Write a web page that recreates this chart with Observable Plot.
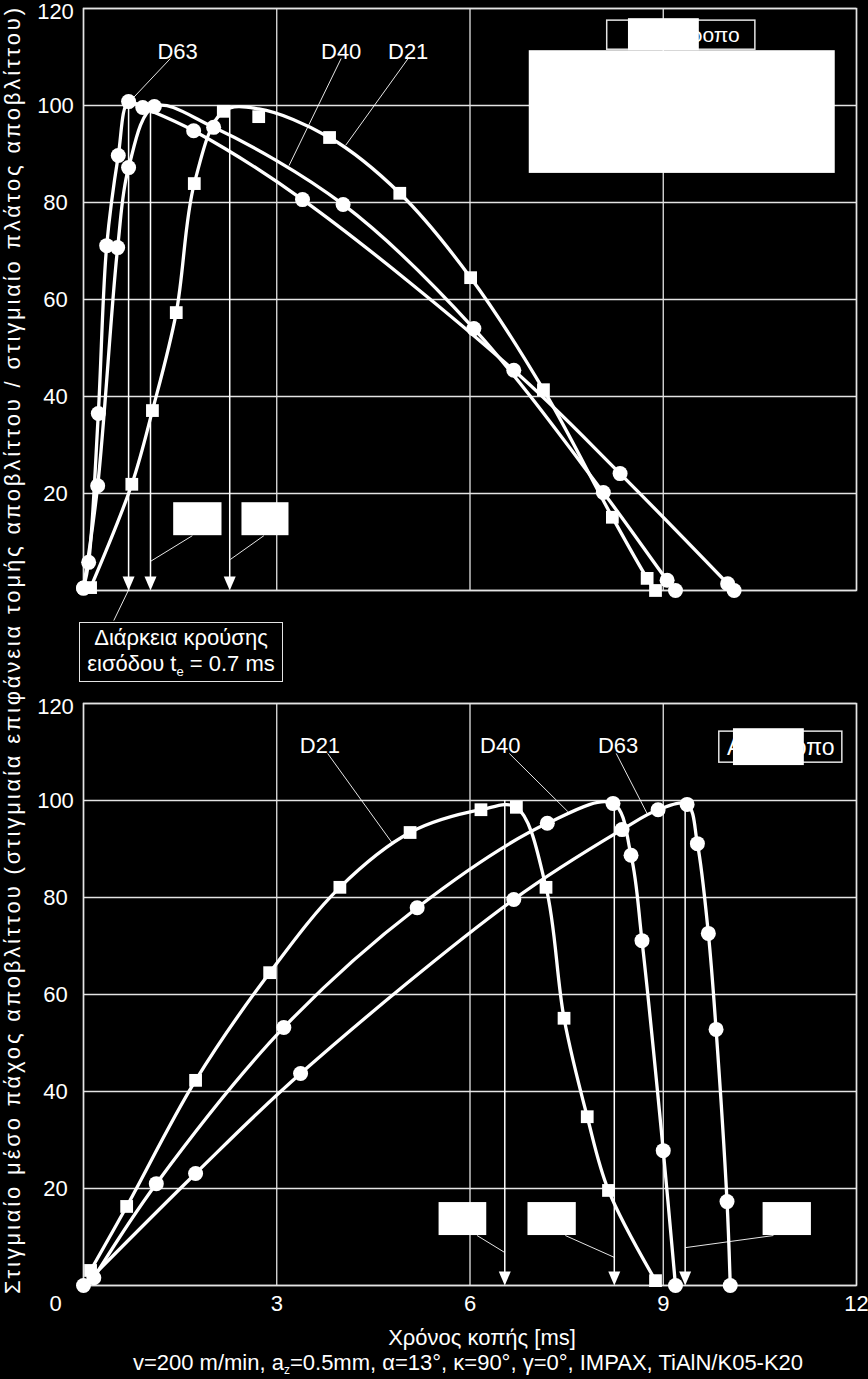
<!DOCTYPE html>
<html><head><meta charset="utf-8">
<script src="https://cdn.jsdelivr.net/npm/d3@7"></script>
<script src="https://cdn.jsdelivr.net/npm/@observablehq/plot@0.6"></script>
<style>
html,body{margin:0;padding:0;background:#000;overflow:hidden}
#wrap{position:relative;width:868px;height:1379px;background:#000;font-family:"Liberation Sans",Arial,sans-serif;color:#fff}
.abs{position:absolute;white-space:nowrap}
</style></head><body><div id="wrap"></div>
<script>
// ---------- ticks ----------
const xTicks = [0, 3, 6, 9, 12];
const yTicks = [20, 40, 60, 80, 100, 120];
const yGrid = [0, 20, 40, 60, 80, 100, 120];

// ---------- top panel (Ομόρροπο) ----------
const topD21_t = [0.11, 0.75, 1.07, 1.44, 1.72, 2.17, 2.72, 3.82, 4.91, 6.01, 7.14, 8.21, 8.75, 8.88];
const topD21_v = [0.6, 21.9, 37.1, 57.3, 83.9, 98.8, 97.7, 93.4, 81.9, 64.5, 41.4, 15.1, 2.5, 0];
const topD21_lineV = [0.6, 21.9, 37.1, 57.3, 83.9, 98.8, 99.3, 93.4, 81.9, 64.5, 41.4, 15.1, 2.5, 0];
const topD40_t = [0, 0.22, 0.53, 0.70, 1.10, 2.02, 4.03, 6.06, 8.07, 9.06, 9.19];
const topD40_v = [0.5, 21.6, 70.7, 87.2, 99.8, 95.5, 79.6, 54.0, 20.2, 2.1, 0];
const topD63_t = [0, 0.08, 0.23, 0.36, 0.54, 0.70, 0.92, 1.71, 3.40, 6.68, 8.33, 10.0, 10.1];
const topD63_v = [0.5, 5.8, 36.5, 71.1, 89.7, 100.8, 99.6, 94.8, 80.6, 45.4, 24.1, 1.4, 0];
const topArrows = [0.70, 1.04, 2.27];

// ---------- bottom panel (Αντίρροπο) ----------
const botD21_t = [0.11, 0.67, 1.74, 2.89, 3.98, 5.07, 6.17, 6.72, 7.18, 7.46, 7.82, 8.15, 8.88];
const botD21_v = [3.1, 16.3, 42.3, 64.5, 82.1, 93.4, 98.1, 98.6, 82.1, 55.1, 34.8, 19.6, 1.0];
const botD40_t = [0.16, 1.13, 3.11, 5.18, 7.20, 8.22, 8.50, 8.67, 9.00, 9.19];
const botD40_v = [1.6, 21.0, 53.2, 77.9, 95.3, 99.4, 88.7, 71.1, 27.8, 0];
const botD63_t = [0, 1.74, 3.37, 6.68, 8.36, 8.92, 9.37, 9.53, 9.70, 9.82, 9.99, 10.04];
const botD63_v = [0, 23.1, 43.7, 79.6, 94.0, 98.1, 99.2, 91.1, 72.6, 52.8, 17.3, 0];
const botArrows = [6.54, 8.24, 9.34];

// ---------- annotations (data coordinates) ----------
const topLabels = [
  {text: "D63", x: 1.46, y: 111.1, x1: 1.35, y1: 109.7, x2: 0.76, y2: 101.4},
  {text: "D40", x: 4.00, y: 111.1, x1: 4.00, y1: 109.7, x2: 3.19, y2: 87.6},
  {text: "D21", x: 5.04, y: 111.1, x1: 5.04, y1: 109.7, x2: 4.07, y2: 91.8}
];
const botLabels = [
  {text: "D21", x: 3.67, y: 111.3, x1: 3.79, y1: 109.7, x2: 4.80, y2: 91.1},
  {text: "D40", x: 6.47, y: 111.3, x1: 6.61, y1: 109.7, x2: 7.52, y2: 97.7},
  {text: "D63", x: 8.30, y: 111.3, x1: 8.27, y1: 109.7, x2: 8.75, y2: 97.3}
];
const topLegend = {text: "Ομόρροπο", x1: 8.13, x2: 10.43, y1: 111.5, y2: 117.5, size: 21, shift: 0.12};
const botLegend = {text: "Αντίρροπο", x1: 9.87, x2: 11.78, y1: 107.8, y2: 114.2, size: 23, shift: 0};
const topWhite = [
  {x1: 8.46, x2: 9.56, y1: 111.3, y2: 117.9},
  {x1: 6.92, x2: 11.67, y1: 86.0, y2: 111.3},
  {x1: 1.40, x2: 2.15, y1: 11.3, y2: 18.1},
  {x1: 2.46, x2: 3.19, y1: 11.3, y2: 18.1}
];
const topWhiteLeaders = [
  {x1: 1.69, y1: 11.3, x2: 1.04, y2: 6.0},
  {x1: 2.80, y1: 11.3, x2: 2.28, y2: 6.4},
  {x1: 0.47, y1: -6.2, x2: 0.71, y2: 0.4}
];
const botWhite = [
  {x1: 10.09, x2: 11.19, y1: 107.2, y2: 114.8},
  {x1: 5.52, x2: 6.26, y1: 10.3, y2: 17.1},
  {x1: 6.90, x2: 7.65, y1: 10.3, y2: 17.1},
  {x1: 10.55, x2: 11.30, y1: 10.3, y2: 17.1}
];
const botWhiteLeaders = [
  {x1: 6.11, y1: 10.3, x2: 6.54, y2: 6.8},
  {x1: 7.48, y1: 10.3, x2: 8.24, y2: 5.8},
  {x1: 10.71, y1: 10.3, x2: 9.34, y2: 7.8}
];

// ---------- build tables ----------
function rows(name, t, v, sym) { return t.map((d, i) => ({s: name, t: d, v: v[i], sym})); }
const topPts = [
  ...rows("D21", topD21_t, topD21_v, "square"),
  ...rows("D40", topD40_t, topD40_v, "circle"),
  ...rows("D63", topD63_t, topD63_v, "circle")
];
const topLines = [
  ...rows("D21", topD21_t, topD21_lineV, "square"),
  ...rows("D40", topD40_t, topD40_v, "circle"),
  ...rows("D63", topD63_t, topD63_v, "circle")
];
const botPts = [
  ...rows("D21", botD21_t, botD21_v, "square"),
  ...rows("D40", botD40_t, botD40_v, "circle"),
  ...rows("D63", botD63_t, botD63_v, "circle")
];

const WHITE = "#ffffff";
const GRID = "#e4e4e4";
const FONT = "'Liberation Sans', Arial, sans-serif";
const FS = 22;
const downTri = {draw(ctx) { ctx.moveTo(0, 0); ctx.lineTo(-6, -14); ctx.lineTo(6, -14); ctx.closePath(); }};

function panel({height, marginTop, marginBottom, pts, lines, arrows, labels, legend, white, whiteLeaders, xAxis}) {
  const marks = [
    Plot.gridX(xTicks, {stroke: GRID, strokeOpacity: 1, strokeWidth: 1.3}),
    Plot.gridY(yGrid, {stroke: GRID, strokeOpacity: 1, strokeWidth: 1.3}),
    Plot.frame({stroke: GRID, strokeWidth: 1.5}),
    Plot.rect([legend], {x1: "x1", x2: "x2", y1: "y1", y2: "y2", fill: "black", stroke: GRID, strokeWidth: 1.5}),
    Plot.text([legend], {x: d => (d.x1 + d.x2) / 2 + d.shift, y: d => (d.y1 + d.y2) / 2, text: "text", fill: WHITE, fontSize: legend.size}),
    Plot.rect(white, {x1: "x1", x2: "x2", y1: "y1", y2: "y2", fill: WHITE}),
    Plot.link(whiteLeaders, {x1: "x1", y1: "y1", x2: "x2", y2: "y2", stroke: WHITE, strokeWidth: 0.9}),
    Plot.ruleX(arrows, {x: d => d, y1: 100, y2: 2.5, stroke: WHITE, strokeWidth: 1.5}),
    Plot.dot(arrows, {x: d => d, y: 0, symbol: downTri, fill: WHITE, stroke: "none"}),
    Plot.line(lines, {x: "t", y: "v", z: "s", curve: "catmull-rom", stroke: WHITE, strokeWidth: 3.3}),
    Plot.dot(pts.filter(d => d.sym === "circle"), {x: "t", y: "v", r: 7.5, fill: WHITE, stroke: "none"}),
    Plot.dot(pts.filter(d => d.sym === "square"), {x: "t", y: "v", r: 7.2, symbol: "square", fill: WHITE, stroke: "none"}),
    Plot.link(labels, {x1: "x1", y1: "y1", x2: "x2", y2: "y2", stroke: WHITE, strokeWidth: 0.9}),
    Plot.text(labels, {x: "x", y: "y", text: "text", fill: WHITE, fontSize: FS}),
    Plot.text(yTicks.filter(d => d !== 120), {y: d => d, frameAnchor: "left", dx: -28, textAnchor: "middle", text: d => String(d), fill: WHITE, fontSize: FS}),
    Plot.text(yTicks.filter(d => d === 120), {y: d => d, frameAnchor: "left", dx: -28, dy: 3, textAnchor: "middle", text: d => String(d), fill: WHITE, fontSize: FS})
  ];
  if (xAxis) {
    marks.push(Plot.text(xTicks.filter(d => d !== 0), {x: d => d, frameAnchor: "bottom", dy: 25, text: d => String(d), fill: WHITE, fontSize: FS}));
    marks.push(Plot.text(xTicks.filter(d => d === 0), {x: d => d, frameAnchor: "bottom", dy: 25, dx: -28, text: d => String(d), fill: WHITE, fontSize: FS}));
  }
  return Plot.plot({
    width: 868, height, marginLeft: 83, marginRight: 12, marginTop, marginBottom,
    x: {domain: [0, 12], axis: null},
    y: {domain: [0, 120], axis: null},
    style: {background: "transparent", color: WHITE, fontFamily: FONT, fontSize: FS + "px", overflow: "visible"},
    marks
  });
}

const wrap = document.getElementById("wrap");
const p1 = panel({height: 700, marginTop: 8, marginBottom: 110, pts: topPts, lines: topLines, arrows: topArrows,
  labels: topLabels, legend: topLegend, white: topWhite, whiteLeaders: topWhiteLeaders, xAxis: false});
p1.style.position = "absolute"; p1.style.left = "0px"; p1.style.top = "0px";
wrap.appendChild(p1);
const p2 = panel({height: 684, marginTop: 8, marginBottom: 94, pts: botPts, lines: botPts, arrows: botArrows,
  labels: botLabels, legend: botLegend, white: botWhite, whiteLeaders: botWhiteLeaders, xAxis: true});
p2.style.position = "absolute"; p2.style.left = "0px"; p2.style.top = "695px";
wrap.appendChild(p2);

// annotation box
const box = document.createElement("div");
box.className = "abs";
box.style.cssText = "position:absolute;left:79px;top:622px;width:202px;height:56px;border:1.5px solid #e4e4e4;background:#000;font-size:22px;line-height:26px;text-align:center;padding-top:2px;";
box.innerHTML = "Διάρκεια κρούσης<br>εισόδου t<sub style='font-size:13px;vertical-align:-5px;line-height:0'>e</sub> = 0.7 ms";
wrap.appendChild(box);

// x label & caption
const xl = document.createElement("div");
xl.className = "abs";
xl.style.cssText += "left:482px;top:1325px;transform:translateX(-50%);font-size:22px;line-height:26px;";
xl.textContent = "Χρόνος κοπής [ms]";
wrap.appendChild(xl);
const cap = document.createElement("div");
cap.className = "abs";
cap.style.cssText += "left:468px;top:1350px;transform:translateX(-50%);font-size:22px;line-height:26px;";
cap.innerHTML = "v=200 m/min, a<sub style='font-size:12px;vertical-align:-4px;line-height:0'>z</sub>=0.5mm, α=13°, κ=90°, γ=0°, IMPAX, TiAlN/K05-K20";
wrap.appendChild(cap);

// y-axis title (spans both panels)
const ns = "http://www.w3.org/2000/svg";
const ts = document.createElementNS(ns, "svg");
ts.setAttribute("width", 868); ts.setAttribute("height", 1379);
ts.style.cssText = "position:absolute;left:0;top:0;pointer-events:none";
const tt = document.createElementNS(ns, "text");
tt.setAttribute("transform", "translate(20,651) rotate(-90)");
tt.setAttribute("text-anchor", "middle");
tt.setAttribute("textLength", "1286");
tt.setAttribute("lengthAdjust", "spacing");
tt.setAttribute("font-size", "22");
tt.setAttribute("font-family", FONT);
tt.setAttribute("fill", WHITE);
tt.setAttribute("xml:space", "preserve");
tt.textContent = "Στιγμιαίο μέσο πάχος αποβλίττου  (στιγμιαία επιφάνεια τομής αποβλίττου  /  στιγμιαίο πλάτος αποβλίττου)";
ts.appendChild(tt);
wrap.appendChild(ts);
</script></body></html>
